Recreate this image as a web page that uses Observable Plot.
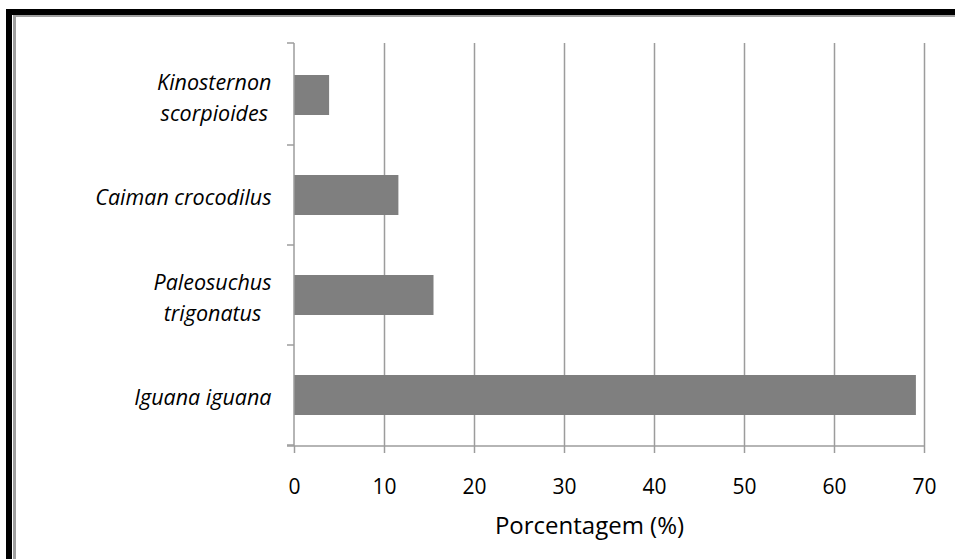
<!DOCTYPE html>
<html>
<head>
<meta charset="utf-8">
<script src="https://cdn.jsdelivr.net/npm/d3@7"></script>
<script src="https://cdn.jsdelivr.net/npm/@observablehq/plot@0.6"></script>
<style>
  html, body { margin: 0; padding: 0; background: #fff; }
  #wrap { position: relative; width: 955px; height: 559px; overflow: hidden; font-family: "Open Sans", Lato, sans-serif; }
  #wrap svg { position: absolute; left: 0; top: 0; }
  .b { position: absolute; }
</style>
</head>
<body>
<div id="wrap">
  <div class="b" style="left:6px; top:9px; width:6px; height:560px; background:#000;"></div>
  <div class="b" style="left:6px; top:9px; width:960px; height:6px; background:#000;"></div>
  <div class="b" style="left:12.5px; top:15px; width:3.5px; height:560px; background:#a0a0a0;"></div>
  <div class="b" style="left:12.5px; top:15px; width:960px; height:2px; background:#a0a0a0;"></div>
</div>
<script>
const categories = ["Kinosternon\nscorpioides", "Caiman crocodilus", "Paleosuchus\ntrigonatus", "Iguana iguana"];
const values = [3.9, 11.6, 15.5, 69.1];
const xTicks = [0, 10, 20, 30, 40, 50, 60, 70];
const xLabel = "Porcentagem (%)";

const data = categories.map((c, i) => ({cat: c, value: values[i]}));

const W = 955, H = 559, mL = 294, mR = 31, mT = 43, mB = 113;
const axisColor = "#9c9c9c";

// boundary tick marks on the category axis + axis lines
function frameLines(index, scales, vals, dims) {
  const y = scales.y;
  const g = d3.create("svg:g").attr("stroke", axisColor).attr("stroke-width", 1.5).attr("fill", "none");
  const x0 = dims.marginLeft, top = dims.marginTop, bottom = dims.height - dims.marginBottom;
  const step = y.step ? y.step() : (bottom - top) / categories.length;
  const bw = y.bandwidth ? y.bandwidth() : step * 0.4;
  const bounds = [top].concat(categories.map(c => y(c) + bw / 2 + step / 2));
  g.append("line").attr("x1", x0).attr("x2", x0).attr("y1", top).attr("y2", bottom);
  g.append("line").attr("x1", x0 - 7).attr("x2", dims.width - dims.marginRight).attr("y1", bottom).attr("y2", bottom);
  for (const b of bounds) {
    g.append("line").attr("x1", x0 - 7).attr("x2", x0).attr("y1", b).attr("y2", b);
  }
  return g.node();
}

const chart = Plot.plot({
  width: W, height: H,
  marginLeft: mL, marginRight: mR, marginTop: mT, marginBottom: mB,
  style: {fontFamily: "'Open Sans', Lato, sans-serif", background: "transparent", color: "#000"},
  x: {domain: [0, 70], ticks: xTicks},
  y: {domain: categories, paddingInner: 0.6, paddingOuter: 0.3},
  marks: [
    Plot.gridX(xTicks.slice(1), {stroke: axisColor, strokeOpacity: 1, strokeWidth: 1.5}),
    Plot.barX(data, {x: "value", y: "cat", fill: "#7f7f7f"}),
    Plot.axisX(xTicks, {tickSize: 7, tickPadding: 26, stroke: axisColor, strokeWidth: 1.5, fontSize: 21, fill: "#000", label: null, tickFormat: d => String(d)}),
    Plot.axisY({tickSize: 0, tickPadding: 23, fontSize: 21.5, fontStyle: "italic", lineHeight: 1.45, fill: "#000", label: null}),
    Plot.text([xLabel], {frameAnchor: "bottom", dy: 80, dx: -20, fontSize: 24, fill: "#000", lineAnchor: "middle", text: d => d}),
    frameLines
  ]
});

document.getElementById("wrap").appendChild(chart);

// center multi-line category labels on their widest line (as in the reference)
chart.querySelectorAll("text").forEach(t => {
  const spans = t.querySelectorAll("tspan");
  if (spans.length > 1) {
    let maxW = 0;
    spans.forEach(s => { maxW = Math.max(maxW, s.getComputedTextLength()); });
    const x = +(t.getAttribute("x") || 0);
    t.setAttribute("text-anchor", "middle");
    spans.forEach(s => s.setAttribute("x", x - maxW / 2));
  }
});
</script>
</body>
</html>
